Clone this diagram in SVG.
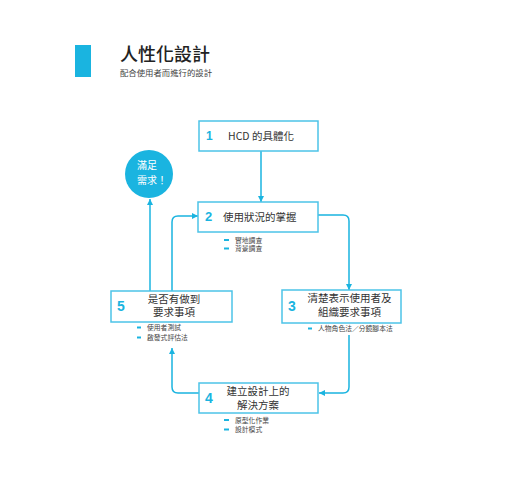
<svg xmlns="http://www.w3.org/2000/svg" width="520" height="500" viewBox="0 0 520 500">
<style>
.box{fill:#fff;stroke:#4cc3e8;stroke-width:1.5}
.num{font-family:"Liberation Sans",Arial,sans-serif;font-weight:bold;fill:#1ab4e0}
.lbl{font-family:"Noto Sans CJK TC","Liberation Sans",sans-serif;fill:#333;font-size:10.5px}
.bul{font-family:"Noto Sans CJK TC","Liberation Sans",sans-serif;fill:#444;font-size:6.8px}
.dash{stroke:#1ab4e0;stroke-width:2}
.con{fill:none;stroke:#1ab4e0;stroke-width:1.5}
</style>
<defs>
<marker id="a" viewBox="0 0 10 10" refX="10" refY="5" markerWidth="6" markerHeight="6" orient="auto" markerUnits="userSpaceOnUse">
<path d="M0,0 L10,5 L0,10 z" fill="#1ab4e0"/>
</marker>
</defs>
<rect width="520" height="500" fill="#fff"/>
<g id="title">
<rect x="75" y="45" width="16" height="32" fill="#1ab4e0"/>
<text x="120" y="61" font-family="'Noto Sans CJK TC',sans-serif" font-size="18" font-weight="500" fill="#222">人性化設計</text>
<text x="120" y="76" font-family="'Noto Sans CJK TC',serif" font-size="8.4" fill="#444">配合使用者而進行的設計</text>
</g>
<g id="connectors">
<path class="con" d="M261,151 V202" marker-end="url(#a)"/>
<path class="con" d="M318,215 H343 Q349,215 349,221 V290" marker-end="url(#a)"/>
<path class="con" d="M349,335 V387 Q349,393 343,393 H319" marker-end="url(#a)"/>
<path class="con" d="M199,393 H178 Q172,393 172,387 V348" marker-end="url(#a)"/>
<path class="con" d="M172,291 V222 Q172,216 178,216 H198" marker-end="url(#a)"/>
<path class="con" d="M150,291 V199" marker-end="url(#a)"/>
</g>
<g id="node1">
<rect class="box" x="199" y="121" width="119" height="30"/>
<text class="num" x="206" y="140" font-size="12">1</text>
<text class="lbl" x="228" y="140" font-size="10.5">HCD 的具體化</text>
</g>
<g id="node-goal">
<circle cx="149" cy="174" r="24" fill="#1ab4e0"/>
<text x="137" y="169" font-family="'Noto Sans CJK TC',sans-serif" font-size="10" fill="#fff">滿足</text>
<text x="137" y="184" font-family="'Noto Sans CJK TC',sans-serif" font-size="10" fill="#fff">需求！</text>
</g>
<g id="node2">
<rect class="box" x="198" y="202" width="120" height="30"/>
<text class="num" x="205" y="221" font-size="13">2</text>
<text class="lbl" x="223" y="221" font-size="11">使用狀況的掌握</text>
<line class="dash" x1="224" y1="240" x2="229" y2="240"/>
<text class="bul" x="235" y="242.5">實地調查</text>
<line class="dash" x1="224" y1="248.5" x2="229" y2="248.5"/>
<text class="bul" x="235" y="251">背景調查</text>
</g>
<g id="node3">
<rect class="box" x="282" y="290" width="119" height="33"/>
<text class="num" x="288" y="311" font-size="14">3</text>
<text class="lbl" x="349.5" y="302" text-anchor="middle">清楚表示使用者及</text>
<text class="lbl" x="349.5" y="316" text-anchor="middle">組織要求事項</text>
<line class="dash" x1="308" y1="328.5" x2="312" y2="328.5"/>
<text class="bul" x="318" y="331">人物角色法／分鏡腳本法</text>
</g>
<g id="node4">
<rect class="box" x="199" y="383" width="119" height="30"/>
<text class="num" x="205" y="403" font-size="14">4</text>
<text class="lbl" x="258" y="395" text-anchor="middle">建立設計上的</text>
<text class="lbl" x="258" y="409" text-anchor="middle">解決方案</text>
<line class="dash" x1="224" y1="420" x2="229" y2="420"/>
<text class="bul" x="235" y="422.5">原型化作業</text>
<line class="dash" x1="224" y1="429.5" x2="229" y2="429.5"/>
<text class="bul" x="235" y="432">設計模式</text>
</g>
<g id="node5">
<rect class="box" x="111" y="291" width="121" height="31"/>
<text class="num" x="117" y="311" font-size="14">5</text>
<text class="lbl" x="174" y="302.5" text-anchor="middle">是否有做到</text>
<text class="lbl" x="174" y="316" text-anchor="middle">要求事項</text>
<line class="dash" x1="137" y1="327.5" x2="141" y2="327.5"/>
<text class="bul" x="147" y="330">使用者測試</text>
<line class="dash" x1="137" y1="337.5" x2="141" y2="337.5"/>
<text class="bul" x="147" y="340">啟發式評估法</text>
</g>
</svg>
